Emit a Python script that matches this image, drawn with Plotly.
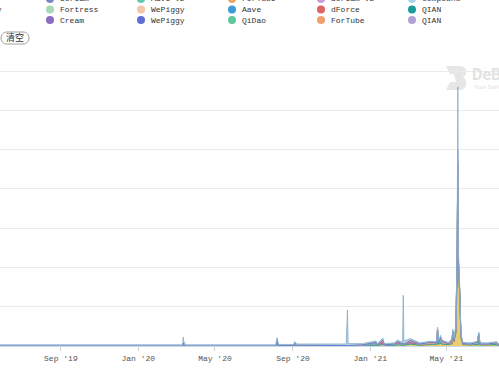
import plotly.graph_objects as go

# ---------------- data ----------------
dates = [
    "2019-05-28", "2019-07-10", "2019-08-20", "2019-10-01", "2019-11-15", "2019-12-20",
    "2020-01-25", "2020-02-25", "2020-03-11", "2020-03-12", "2020-03-13", "2020-03-16",
    "2020-04-20", "2020-06-01", "2020-07-10", "2020-08-05", "2020-08-07", "2020-08-09",
    "2020-09-02", "2020-09-04", "2020-09-07", "2020-10-10", "2020-11-24", "2020-11-26",
    "2020-11-27", "2020-12-20", "2021-01-10", "2021-01-12", "2021-01-21", "2021-01-23",
    "2021-02-08", "2021-02-13", "2021-02-21", "2021-02-22", "2021-02-23", "2021-03-05",
    "2021-03-20", "2021-04-05", "2021-04-16", "2021-04-17", "2021-04-19", "2021-04-22",
    "2021-04-24", "2021-05-04", "2021-05-10", "2021-05-11", "2021-05-13", "2021-05-16",
    "2021-05-18", "2021-05-19", "2021-05-20", "2021-05-22", "2021-05-24", "2021-05-27",
    "2021-06-08", "2021-06-19", "2021-06-21", "2021-06-23", "2021-07-05", "2021-07-19",
    "2021-07-23",
]

venus = [0, 0, 0, 0, 0, 0, 0, 0, 0, 0, 0, 0, 0, 0, 0, 0, 0, 0, 0, 0, 0, 0, 0, 0, 0, 0,
         .02, .01, .04, .01, .01, .03, .02, .02, .02, .05, .02, .03, .03, .03, .03, .05,
         .03, .03, .04, .25, .10, .30, 2.20, 2.40, 1.90, 1.30, .18, .03, .02, .02, .03,
         .02, .02, .02, .01]

compound = [.03, .03, .03, .03, .03, .03, .03, .03, .03, .15, .08, .03, .03, .03, .03,
            .03, .04, .03, .03, .04, .03, .03, .03, .90, .05, .03, .04, .03, .05, .03,
            .03, .04, .04, 1.22, .08, .05, .03, .03, .03, .05, .04, .06, .03, .03, .03,
            .05, .04, .08, .10, 1.60, .20, .12, .04, .03, .03, .03, .04, .03, .03, .03,
            .03]

aave_v2 = [0, 0, 0, 0, 0, 0, 0, 0, 0, 0, 0, 0, 0, 0, 0, 0, 0, 0, 0, 0, 0, 0,
           .01, .02, .01, .01, .02, .01, .03, .01, .02, .02, .02, .05, .02, .03, .02,
           .02, .03, .10, .04, .10, .03, .02, .03, .05, .03, .08, .15, 2.20, .25, .08,
           .05, .02, .02, .03, .10, .02, .02, .04, .01]

qian = [0, 0, 0, 0, 0, 0, 0, 0, 0, 0, 0, 0, 0, 0, 0, 0, 0, 0, 0, 0, 0, 0, 0, 0, 0, 0,
        0, 0, 0, 0, 0, 0, 0, 0, 0, 0, 0, .01, .02, .30, .03, .06, .02, .01, .02, .08,
        .02, .03, .03, .05, .03, .02, .02, .01, .01, .02, .18, .01, .01, .02, 0]

cream = [0, 0, 0, 0, 0, 0, 0, 0, 0, 0, 0, 0, 0, 0, 0, 0, 0, 0, .01, .03, .01, .02, .01,
         0, 0, .02, .05, .01, 0, 0, .02, .03, .01, 0, 0, 0, .01, 0, 0, 0, 0, 0, 0, 0,
         0, 0, 0, 0, 0, 0, 0, 0, 0, 0, 0, 0, 0, 0, 0, 0, 0]

dforce = [0, 0, 0, 0, 0, 0, 0, 0, 0, 0, 0, 0, 0, 0, 0, 0, 0, 0, 0, .04, .01, 0, 0, 0,
          0, 0, 0, 0, .04, .01, 0, 0, 0, 0, 0, .02, 0, 0, 0, 0, 0, 0, 0, 0, 0, 0, 0,
          0, 0, 0, 0, 0, 0, 0, 0, 0, 0, 0, 0, 0, 0]

fortube = [0, 0, 0, 0, 0, 0, 0, 0, 0, 0, 0, 0, 0, 0, 0, 0, 0, 0, 0, 0, 0, 0, 0, 0, 0,
           0, 0, 0, .04, 0, 0, .03, 0, 0, 0, .04, 0, 0, 0, 0, 0, 0, 0, 0, .02, 0, 0,
           .04, 0, 0, 0, 0, 0, 0, 0, 0, 0, 0, 0, 0, 0]

fortress = [0, 0, 0, 0, 0, 0, 0, 0, 0, 0, 0, 0, 0, 0, 0, 0, 0, 0, 0, 0, 0, 0, 0, 0, 0,
            0, 0, 0, 0, 0, 0, 0, 0, 0, 0, 0, 0, .03, 0, 0, 0, 0, .04, 0, .04, 0, 0, 0,
            0, 0, 0, 0, 0, 0, 0, .02, 0, 0, 0, 0, 0]

wepiggy_b = [0, 0, 0, 0, 0, 0, 0, 0, 0, .08, .03, 0, 0, 0, 0, 0, .17, .01, 0, 0, 0, 0,
             0, 0, 0, 0, 0, 0, 0, 0, 0, 0, 0, 0, 0, 0, 0, 0, 0, 0, 0, 0, 0, 0, 0, 0, 0,
             0, 0, .35, .02, 0, 0, 0, 0, 0, 0, 0, 0, 0, 0]

# legend (column-major: 6 columns x 3 rows)
legend_names = [
    ["Venus", "Liquity", None],
    ["Scream", "Fortress", "Cream"],
    ["Aave V2", "WePiggy", "WePiggy"],
    ["ForTube", "Aave", "QiDao"],
    ["Scream V2", "dForce", "ForTube"],
    ["Compound", "QIAN", "QIAN"],
]
legend_colors = [
    ["#e6c35c", "#8fa8c8", None],
    ["#7b86c9", "#a9d9b5", "#8e6cc4"],
    ["#62c7ac", "#f2c6a6", "#5f6fd3"],
    ["#eaa866", "#3d9bd8", "#5fc59d"],
    ["#c79cdc", "#e06464", "#f0a070"],
    ["#a9d3ea", "#1c9b9b", "#b3a0d6"],
]

tick_vals = ["2019-09-01", "2020-01-01", "2020-05-01", "2020-09-01", "2021-01-01", "2021-05-01"]
tick_text = ["Sep '19", "Jan '20", "May '20", "Sep '20", "Jan '21", "May '21"]

# ---------------- figure ----------------
W, H = 499, 390
ML, MR, MT, MB = 0, 0, 70, 44
PW, PH = W - ML - MR, H - MT - MB


def px(x):
    return (x - ML) / PW


def py(y):
    return (H - MB - y) / PH


def rgba(hexc, a):
    h = hexc.lstrip("#")
    r, g, b = int(h[0:2], 16), int(h[2:4], 16), int(h[4:6], 16)
    return f"rgba({r},{g},{b},{a})"


# stacking order: bottom -> top
series = [
    ("Venus", venus, "#e6c35c", "#d9b44a"),
    ("QIAN", qian, "#1c9b9b", "#1c9b9b"),
    ("Aave V2", aave_v2, "#86c4b8", "#6fb3a8"),
    ("Cream", cream, "#8e6cc4", "#8e6cc4"),
    ("dForce", dforce, "#e06464", "#e06464"),
    ("ForTube", fortube, "#eaa866", "#eaa866"),
    ("Fortress", fortress, "#a9d9b5", "#a9d9b5"),
    ("WePiggy", wepiggy_b, "#5f6fd3", "#5f6fd3"),
    ("Compound", compound, "#a9cbe0", "#8fb1c8"),
]

fig = go.Figure()
for name, vals, col, lcol in series:
    fig.add_trace(go.Scatter(
        x=dates, y=vals, name=name, mode="lines", stackgroup="one",
        line=dict(color=lcol, width=0.9), fillcolor=rgba(col, 0.85),
        showlegend=False,
    ))

shapes = []
annotations = []

# manual legend
col_marker_x = [-42, 50, 141, 232, 321, 412]
row_y = [-1, 9.5, 20]
for ci, (names, cols) in enumerate(zip(legend_names, legend_colors)):
    for ri, (nm, c) in enumerate(zip(names, cols)):
        if nm is None:
            continue
        shapes.append(dict(
            type="circle", xref="paper", yref="paper",
            xsizemode="pixel", ysizemode="pixel",
            xanchor=px(col_marker_x[ci]), yanchor=py(row_y[ri]),
            x0=-4, x1=4, y0=-4, y1=4,
            fillcolor=c, line=dict(width=0),
        ))
        annotations.append(dict(
            text=nm, xref="paper", yref="paper",
            x=px(col_marker_x[ci] + 8), y=py(row_y[ri]),
            xanchor="left", yanchor="middle", showarrow=False,
            font=dict(family="Liberation Mono", size=8, color="#333333"),
        ))

# "清空" button
shapes.append(dict(
    type="path", xref="paper", yref="paper",
    xsizemode="pixel", ysizemode="pixel",
    xanchor=px(15), yanchor=py(38),
    path="M -8,-6 L 8,-6 C 16,-6 16,6 8,6 L -8,6 C -16,6 -16,-6 -8,-6 Z",
    line=dict(color="#9a9a9a", width=1), fillcolor="white",
))
annotations.append(dict(
    text="清空", xref="paper", yref="paper", x=px(15), y=py(38),
    xanchor="center", yanchor="middle", showarrow=False,
    font=dict(family="Noto Sans CJK SC", size=9, color="#333333"),
))

# watermark
shapes.append(dict(
    type="path", xref="paper", yref="paper",
    xsizemode="pixel", ysizemode="pixel",
    xanchor=px(456), yanchor=py(78), layer="below",
    path="M -10,12 L 4,12 C 12,12 12,2 6,1 C 12,0 12,-12 4,-12 L -10,-12 L -6,-4 L 0,-4 L -2,4 L -6,4 Z",
    fillcolor="#e6e6e6", line=dict(width=0),
))
annotations.append(dict(
    text="<b>DeBank</b>", xref="paper", yref="paper", x=px(470), y=py(75),
    xanchor="left", yanchor="middle", showarrow=False,
    font=dict(family="Roboto", size=16, color="#e2e2e2"),
))
annotations.append(dict(
    text="Your DeFi Wallet", xref="paper", yref="paper", x=px(472), y=py(86),
    xanchor="left", yanchor="middle", showarrow=False,
    font=dict(family="Roboto", size=6, color="#e2e2e2"),
))

fig.update_layout(
    width=W, height=H,
    margin=dict(l=ML, r=MR, t=MT, b=MB, pad=0),
    paper_bgcolor="white", plot_bgcolor="white",
    showlegend=False,
    shapes=shapes, annotations=annotations,
    xaxis=dict(
        type="date", range=["2019-05-28", "2021-07-23"],
        tickvals=tick_vals, ticktext=tick_text,
        ticks="outside", ticklen=4, tickcolor="#d0d0d0",
        showgrid=False, showline=True, linecolor="#c9dbe6", linewidth=1,
        tickfont=dict(family="Liberation Mono", size=8, color="#555555"),
        zeroline=False,
    ),
    yaxis=dict(
        range=[0, 7.03], dtick=1, showticklabels=False,
        showgrid=True, gridcolor="#ebebeb", gridwidth=1, zeroline=False,
    ),
)

fig.write_html("out.html")
